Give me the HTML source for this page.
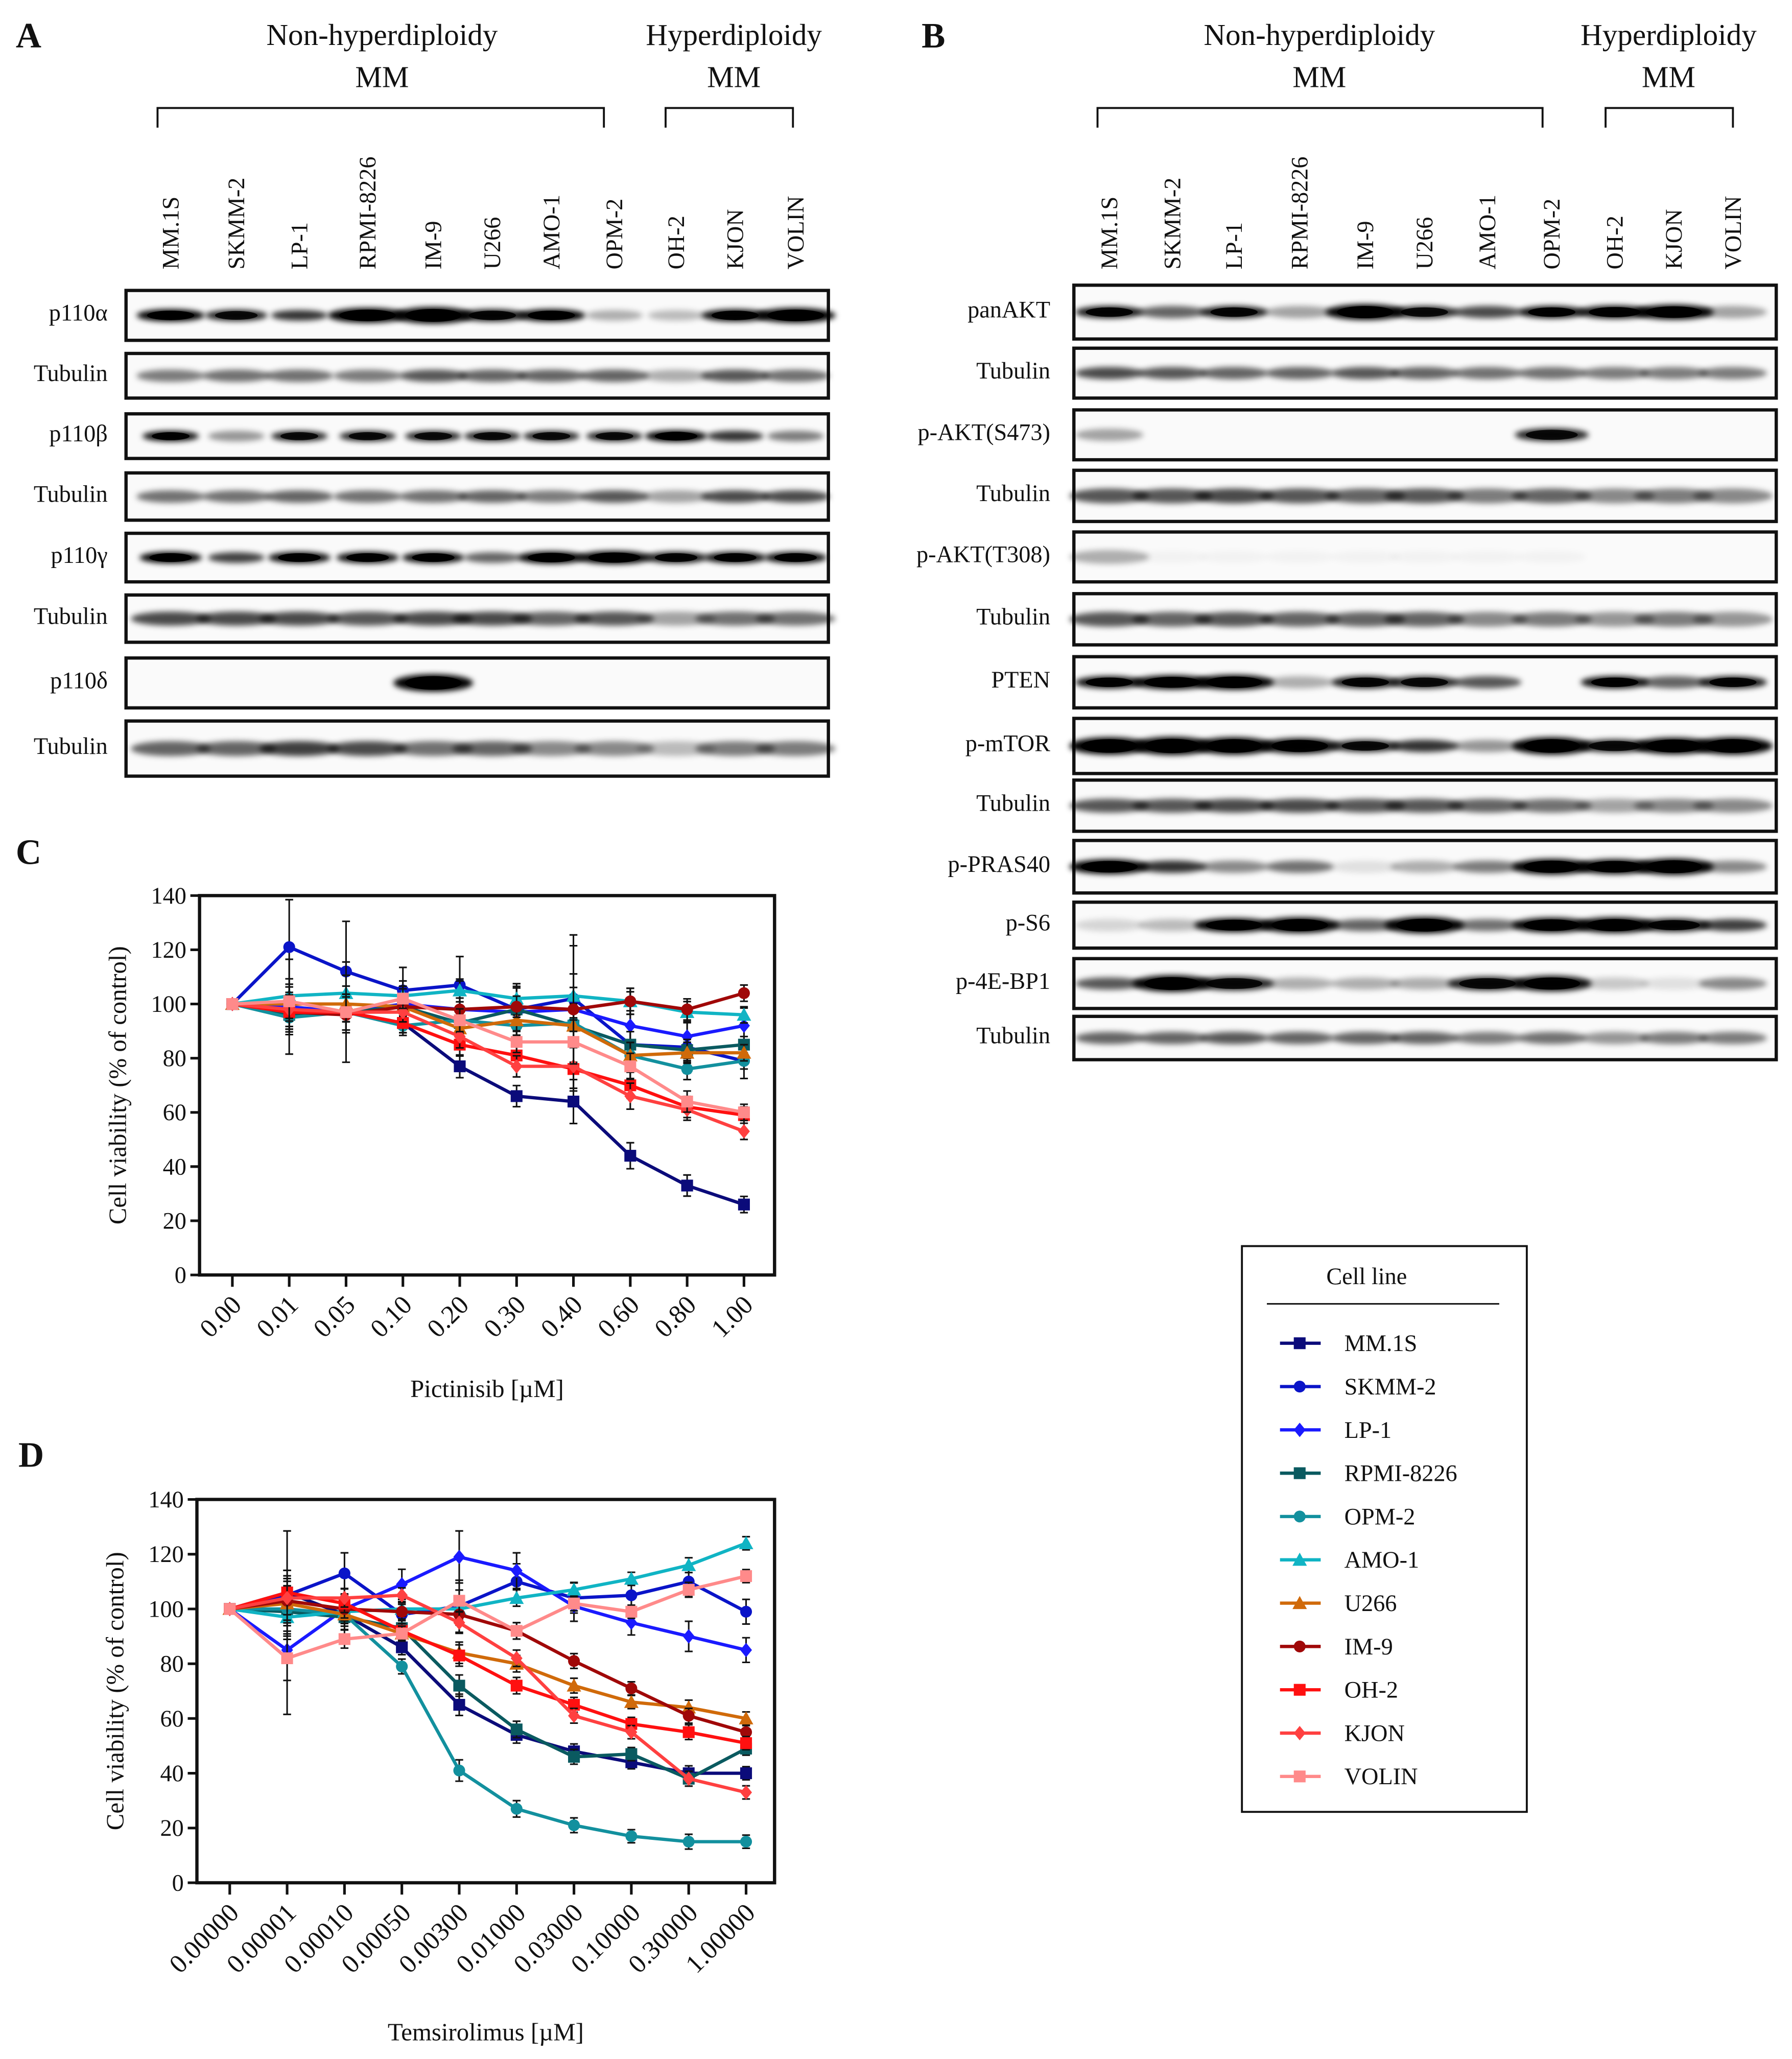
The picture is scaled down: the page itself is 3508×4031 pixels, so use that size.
<!DOCTYPE html>
<html><head><meta charset="utf-8">
<style>
html,body{margin:0;padding:0;background:#fff;}
svg{display:block;}
text{font-family:"Liberation Serif",serif;fill:#111;}
</style></head>
<body>
<svg id="fig" xmlns="http://www.w3.org/2000/svg" width="3508" height="4031" viewBox="0 0 1365 1568" font-family="Liberation Serif, serif">
<defs>
<filter id="bl" x="-50%" y="-100%" width="200%" height="300%"><feGaussianBlur stdDeviation="2.2"/></filter>
</defs>
<g id="root"></g>
</svg>
<script>
// ---------- chart data ----------
const seriesNames = ["MM.1S","SKMM-2","LP-1","RPMI-8226","OPM-2","AMO-1","U266","IM-9","OH-2","KJON","VOLIN"];
const seriesColors = ["#0b0b7a","#0a14c8","#1a1aff","#0a5a60","#12909e","#10b4c4","#d06a0a","#a00808","#ff1010","#ff4040","#ff8a8a"];
const seriesMarkers = ["square","circle","diamond","square","circle","triangle","triangle","circle","square","diamond","square"];
const cTicks = ["0.00","0.01","0.05","0.10","0.20","0.30","0.40","0.60","0.80","1.00"];
const dTicks = ["0.00000","0.00001","0.00010","0.00050","0.00300","0.01000","0.03000","0.10000","0.30000","1.00000"];
const yTicks = [0,20,40,60,80,100,120,140];
const cMM1S = [100,97,97,93,77,66,64,44,33,26];
const cSKMM2 = [100,121,112,105,107,98,102,85,84,79];
const cLP1 = [100,99,97,100,98,97,98,92,88,92];
const cRPMI = [100,96,97,99,93,98,92,85,83,85];
const cOPM2 = [100,95,97,92,94,92,93,81,76,79];
const cAMO1 = [100,103,104,103,105,102,103,101,97,96];
const cU266 = [100,100,100,99,91,94,92,81,82,82];
const cIM9 = [100,97,96,99,98,99,98,101,98,104];
const cOH2 = [100,97,97,93,85,81,76,70,62,59];
const cKJON = [100,98,97,97,88,77,77,66,61,53];
const cVOLIN = [100,101,97,102,94,86,86,77,64,60];
const cErr = [0,16,17,7,9,8,22,11,8,5];
const dMM1S = [100,106,98,86,65,54,48,44,40,40];
const dSKMM2 = [100,105,113,98,101,110,104,105,110,99];
const dLP1 = [100,85,100,109,119,114,101,95,90,85];
const dRPMI = [100,99,97,93,72,56,46,47,38,49];
const dOPM2 = [100,100,98,79,41,27,21,17,15,15];
const dAMO1 = [100,97,99,100,100,104,107,111,116,124];
const dU266 = [100,102,98,91,84,80,72,66,64,60];
const dIM9 = [100,103,100,99,98,92,81,71,61,55];
const dOH2 = [100,106,102,92,83,72,65,58,55,51];
const dKJON = [100,104,104,105,95,82,61,55,38,33];
const dVOLIN = [100,82,89,91,103,92,102,99,107,112];
const dErr = [0,22,6,4,8,5,4,3,4,3];
const cData = [cMM1S,cSKMM2,cLP1,cRPMI,cOPM2,cAMO1,cU266,cIM9,cOH2,cKJON,cVOLIN];
const dData = [dMM1S,dSKMM2,dLP1,dRPMI,dOPM2,dAMO1,dU266,dIM9,dOH2,dKJON,dVOLIN];

// ---------- blot data ----------
const laneA = ["MM.1S","SKMM-2","LP-1","RPMI-8226","IM-9","U266","AMO-1","OPM-2","OH-2","KJON","VOLIN"];
const laneB = ["MM.1S","SKMM-2","LP-1","RPMI-8226","IM-9","U266","AMO-1","OPM-2","OH-2","KJON","VOLIN"];
const blotA = [
 ["p110α",221,259,[1,.85,.8,1,1,.9,1,.3,.25,.95,1],[1,.9,.8,1.3,1.5,1,1,.8,.8,1,1.3]],
 ["Tubulin",269,303,[.5,.55,.55,.5,.65,.6,.6,.6,.3,.65,.55],[1,1,1,1,1,1,1,1,1,1,1]],
 ["p110β",315,349,[.95,.4,.85,.85,.85,.85,.85,.85,1,.8,.5],[.8,.8,.8,.8,.8,.8,.8,.8,.9,.8,.8]],
 ["Tubulin",360,396,[.55,.55,.6,.55,.55,.6,.5,.65,.35,.7,.7],[1,1,1,1,1,1,1,1,1,1,1]],
 ["p110γ",406,443,[1,.75,.95,.95,.95,.6,1,1,.9,.95,.95],[.9,.8,.9,.9,.9,.8,1,1.1,.9,.9,.9]],
 ["Tubulin",453,489,[.7,.7,.7,.65,.7,.7,.6,.65,.35,.55,.55],[1.2,1.2,1.2,1.2,1.2,1.2,1.2,1.2,1.2,1.2,1.2]],
 ["p110δ",501,539,[0,0,0,0,1,0,0,0,0,0,0],[1,1,1,1,1.6,1,1,1,1,1,1]],
 ["Tubulin",549,591,[.6,.6,.75,.7,.55,.6,.45,.45,.25,.5,.5],[1.3,1.3,1.3,1.3,1.3,1.3,1.3,1.3,1.3,1.3,1.3]]
];
const blotB = [
 ["panAKT",217,258,[.9,.6,.9,.35,1,.85,.7,.95,.95,1,.35],[1,1,1,1,1.4,1,1,1,1.1,1.3,1]],
 ["Tubulin",265,303,[.7,.65,.6,.6,.65,.6,.55,.55,.5,.5,.5],[1,1,1,1,1,1,1,1,1,1,1]],
 ["p-AKT(S473)",312,350,[.35,0,0,0,0,0,0,.85,0,0,0],[1,1,1,1,1,1,1,1.1,1,1,1]],
 ["Tubulin",358,397,[.65,.65,.7,.65,.6,.65,.5,.6,.45,.5,.45],[1.3,1.3,1.3,1.3,1.3,1.3,1.3,1.3,1.3,1.3,1.3]],
 ["p-AKT(T308)",405,443,[.3,.03,.03,.03,.03,.03,.03,.03,0,0,0],[1.2,1,1,1,1,1,1,1,1,1,1]],
 ["Tubulin",452,491,[.65,.6,.65,.6,.6,.6,.45,.5,.4,.5,.4],[1.3,1.3,1.3,1.3,1.3,1.3,1.3,1.3,1.3,1.3,1.3]],
 ["PTEN",500,539,[.95,1,1,.3,.9,.85,.65,0,.95,.6,.9],[1,1.2,1.3,1,1,1,1,1,1,1,1]],
 ["p-mTOR",547,589,[1,1,1,.95,.85,.8,.4,1,.85,1,1],[1.6,1.7,1.6,1.4,1,1,1,1.6,1.1,1.5,1.6]],
 ["Tubulin",594,633,[.65,.65,.7,.7,.65,.65,.6,.55,.35,.45,.45],[1.2,1.2,1.2,1.2,1.2,1.2,1.2,1.2,1.2,1.2,1.2]],
 ["p-PRAS40",640,680,[1,.8,.45,.55,.1,.3,.5,1,1,1,.45],[1.3,1,1,1,1,1,1,1.4,1.3,1.5,1]],
 ["p-S6",687,722,[.15,.25,1,1,.6,1,.55,1,1,.9,.75],[1,1,1.2,1.4,1,1.5,1,1.3,1.4,1.1,1]],
 ["p-4E-BP1",730,768,[.65,1,.85,.3,.3,.3,.85,.95,.2,.1,.45],[1,1.5,1.2,1,1,1,1.2,1.4,1,1,1]],
 ["Tubulin",774,807,[.6,.6,.65,.6,.6,.6,.5,.55,.4,.5,.5],[1,1,1,1,1,1,1,1,1,1,1]]
];

const NS="http://www.w3.org/2000/svg";
const root=document.getElementById('root');
function el(tag,attrs,parent){const e=document.createElementNS(NS,tag);for(const k in attrs)e.setAttribute(k,attrs[k]);(parent||root).appendChild(e);return e;}
function txt(s,attrs,parent){attrs['font-family']='Liberation Serif, serif';const e=el('text',attrs,parent);e.textContent=s;return e;}

// panel letters
[["A",12,36],["B",702,36],["C",12,658],["D",14,1117]].forEach(p=>{
 const t=txt(p[0],{x:p[1],y:p[2],'font-size':27,'font-weight':'bold'});
 
 
});

function header(g,cx1,cx2,b1,b2,b3,b4){
 [[cx1,"Non-hyperdiploidy"],[cx2,"Hyperdiploidy"]].forEach(h=>{
  txt(h[1],{x:h[0],y:34,'font-size':23,'text-anchor':'middle'},g);
  txt("MM",{x:h[0],y:66,'font-size':23,'text-anchor':'middle'},g);
 });
 [[b1,b2],[b3,b4]].forEach(b=>{
  el('path',{d:`M${b[0]} 97V82H${b[1]}V97`,fill:'none',stroke:'#111','stroke-width':1.5},g);
 });
}

function blot(g,boxX1,boxX2,laneX,lanes,rows,labelRight){
 lanes.forEach((n,i)=>{
  const t=txt(n,{x:0,y:0,'font-size':18,transform:`translate(${laneX[i]+6},205) rotate(-90)`},g);
  
  
 });
 rows.forEach(r=>{
  const [name,y1,y2,ints,ws]=r;
  const rg=el('g',{},g);
  
  
  txt(name,{x:labelRight,y:(y1+y2)/2+4,'font-size':18,'text-anchor':'end'},rg);
  el('rect',{x:boxX1,y:y1,width:boxX2-boxX1,height:y2-y1,fill:'#fafafa',stroke:'#111','stroke-width':2.5},rg);
  const cy=(y1+y2)/2;
  laneX.forEach((x,i)=>{
   if(ints[i]<=0)return;
   const w=ws[i];
   el('ellipse',{cx:x,cy:cy,rx:22*Math.min(w,1.2)+4,ry:3.2*w+1.5,fill:'#000','fill-opacity':Math.min(1,ints[i]),filter:'url(#bl)'},rg);
   if(ints[i]>0.8) el('ellipse',{cx:x,cy:cy,rx:18*Math.min(w,1.2),ry:2.6*w+1,fill:'#000','fill-opacity':ints[i]},rg);
  });
 });
}

const gA=el('g',{});
header(gA,291,559,120,460,507,604);
blot(gA,96,631,[130,180,228,280,330,375,420,468,515,560,606],laneA,blotA,82);
const gB=el('g',{});
header(gB,1005,1271,836,1175,1223,1320);
blot(gB,818,1353,[845,893,940,990,1040,1085,1133,1182,1230,1275,1320],laneB,blotB,800);

// marker
function marker(g,type,x,y,c,s){
 s=s||5;
 let m;
 if(type==='square') m=el('rect',{x:x-s,y:y-s,width:2*s,height:2*s,fill:c},g);
 else if(type==='circle') m=el('circle',{cx:x,cy:y,r:s,fill:c},g);
 else if(type==='diamond') m=el('path',{d:`M${x} ${y-s-1}L${x+s} ${y}L${x} ${y+s+1}L${x-s} ${y}Z`,fill:c},g);
 else m=el('path',{d:`M${x} ${y-s-1}L${x+s+1} ${y+s}L${x-s-1} ${y+s}Z`,fill:c},g);
 return m;
}

function chart(name,L,R,T,B,x0,dx,ticks,data,err,xTitle,xTitleY){
 const g=el('g',{});
 
 
 const yS=v=>B-(v/140)*(B-T);
 const xS=i=>x0+i*dx;
 el('rect',{x:L,y:T,width:R-L,height:B-T,fill:'none',stroke:'#111','stroke-width':2.5},g);
 yTicks.forEach(v=>{
  el('line',{x1:L-7,x2:L,y1:yS(v),y2:yS(v),stroke:'#111','stroke-width':2},g);
  txt(String(v),{x:L-10,y:yS(v)+6,'font-size':18,'text-anchor':'end'},g);
 });
 ticks.forEach((t,i)=>{
  el('line',{x1:xS(i),x2:xS(i),y1:B,y2:B+9,stroke:'#111','stroke-width':2},g);
  const tl=txt(t,{x:0,y:0,'font-size':20,'text-anchor':'end',transform:`translate(${xS(i)+8},${B+24}) rotate(-45)`},g);
  
  
 });
 const yl=txt("Cell viability (% of control)",{x:0,y:0,'font-size':19,'text-anchor':'middle',transform:`translate(${L-56},${(T+B)/2}) rotate(-90)`},g);
 
 
 const xl=txt(xTitle,{x:(L+R)/2,y:xTitleY,'font-size':19,'text-anchor':'middle'},g);
 
 
 data.forEach((vals,s)=>{
  const sg=el('g',{},g);
  
  
  vals.forEach((v,i)=>{
   if(err[i]>0){
    const e=err[i]*(s===1||s===2?1:0.3)+1.5;
    el('path',{d:`M${xS(i)} ${yS(v+e)}V${yS(v-e)}M${xS(i)-3} ${yS(v+e)}H${xS(i)+3}M${xS(i)-3} ${yS(v-e)}H${xS(i)+3}`,stroke:'#111','stroke-width':1.2,fill:'none'},sg);
   }
  });
  el('polyline',{points:vals.map((v,i)=>xS(i)+','+yS(v)).join(' '),fill:'none',stroke:seriesColors[s],'stroke-width':2.5},sg);
  vals.forEach((v,i)=>marker(sg,seriesMarkers[s],xS(i),yS(v),seriesColors[s],4.5));
 });
}
chart('chart-c-pictinisib',152,590,682,971,177,43.3,cTicks,cData,cErr,"Pictinisib [µM]",1064);
chart('chart-d-temsirolimus',150,590,1142,1434,175,43.7,dTicks,dData,dErr,"Temsirolimus [µM]",1554);

// legend
const lg=el('g',{});


el('rect',{x:946,y:949,width:217,height:431,fill:'#fff',stroke:'#111','stroke-width':1.5},lg);
txt("Cell line",{x:1041,y:978,'font-size':18,'text-anchor':'middle'},lg);
el('line',{x1:965,x2:1142,y1:993,y2:993,stroke:'#111','stroke-width':1.2},lg);
seriesNames.forEach((n,i)=>{
 const y=1023+33*i;
 const eg=el('g',{},lg);
 
 
 el('line',{x1:975,x2:1006,y1:y,y2:y,stroke:seriesColors[i],'stroke-width':2.5},eg);
 marker(eg,seriesMarkers[i],990,y,seriesColors[i],4.5);
 txt(n,{x:1024,y:y+6,'font-size':18},eg);
});
</script>
</body></html>
